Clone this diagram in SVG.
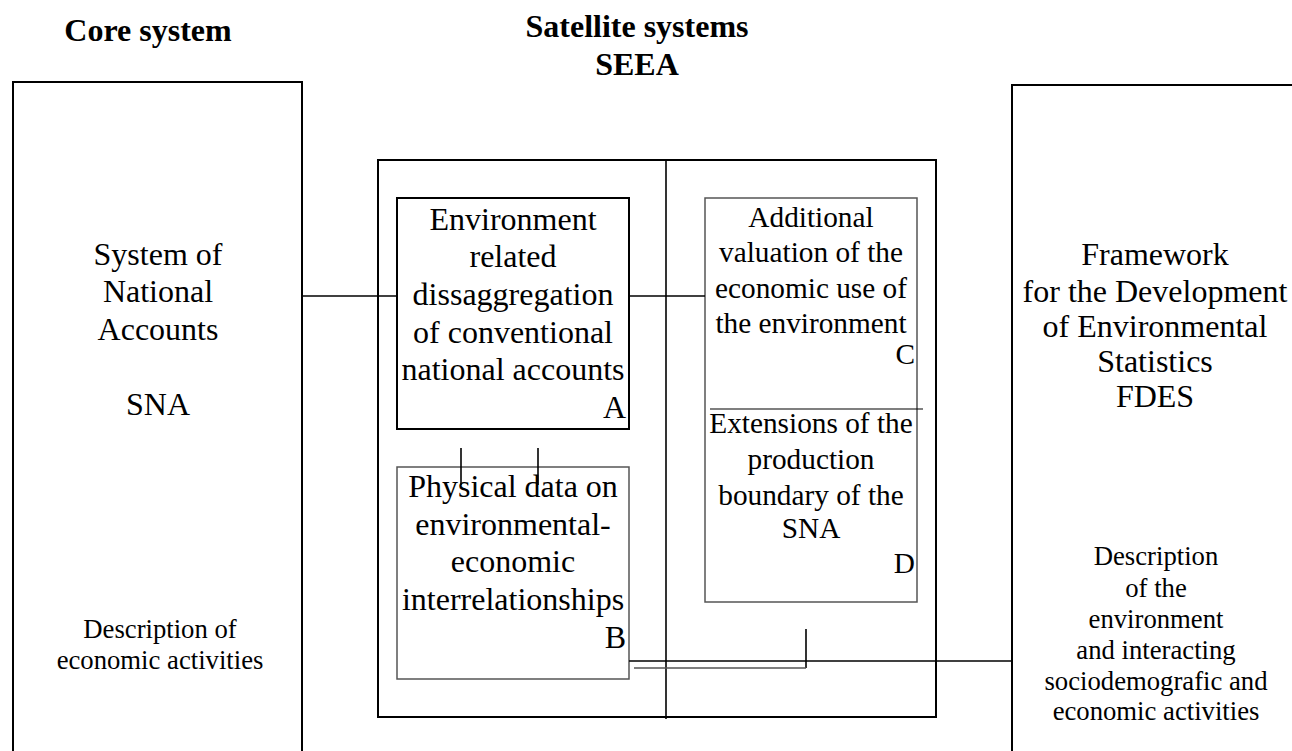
<svg xmlns="http://www.w3.org/2000/svg" width="1292" height="751" viewBox="0 0 1292 751">
  <style>
    .t { font-family: "Liberation Serif", "Times New Roman", serif; fill: #000; text-anchor: middle; }
    .title { font-size: 32px; font-weight: bold; }
    .body { font-size: 32px; }
    .mid { font-size: 29.3px; }
    .small { font-size: 26.7px; }
    .r { text-anchor: end; }
    .box { fill: none; stroke: #000; stroke-width: 2; }
    .thin { fill: none; stroke: #555; stroke-width: 1.5; }
    .ln { stroke: #000; stroke-width: 1.6; fill: none; }
    .ln-gray { stroke: #555; stroke-width: 1.4; fill: none; }
  </style>
  <rect width="1292" height="751" fill="#fff"/>

  <!-- Headings -->
  <g id="headings">
    <text class="t title" x="148" y="41">Core system</text>
    <text class="t title" x="637" y="37">Satellite systems</text>
    <text class="t title" x="637" y="75">SEEA</text>
  </g>

  <!-- Core system: SNA -->
  <g id="sna">
    <path class="box" d="M13,760 V82 H302 V760"/>
    <text class="t body" x="158" y="265">System of</text>
    <text class="t body" x="158" y="302">National</text>
    <text class="t body" x="158" y="340">Accounts</text>
    <text class="t body" x="158" y="415">SNA</text>
    <text class="t small" x="160" y="638">Description of</text>
    <text class="t small" x="160" y="669">economic activities</text>
  </g>

  <!-- Satellite system frame -->
  <g id="seea">
    <rect class="box" x="378" y="160" width="558" height="557"/>
    <line class="ln" x1="666" y1="160" x2="666" y2="719"/>
  </g>

  <!-- A -->
  <g id="node-a">
    <rect class="box" x="397" y="198" width="232" height="231"/>
    <text class="t body" x="513" y="230">Environment</text>
    <text class="t body" x="513" y="267">related</text>
    <text class="t body" x="513" y="305">dissaggregation</text>
    <text class="t body" x="513" y="343">of conventional</text>
    <text class="t body" x="513" y="380">national accounts</text>
    <text class="t body r" x="626" y="418">A</text>
  </g>

  <!-- B -->
  <g id="node-b">
    <rect class="thin" x="397" y="467" width="232" height="212"/>
    <text class="t body" x="513" y="497">Physical data on</text>
    <text class="t body" x="513" y="535">environmental-</text>
    <text class="t body" x="513" y="572">economic</text>
    <text class="t body" x="513" y="610">interrelationships</text>
    <text class="t body r" x="626" y="648">B</text>
  </g>

  <!-- C / D -->
  <g id="node-cd">
    <rect class="thin" x="705" y="198" width="212" height="404"/>
    <line stroke="#000" stroke-width="1.2" x1="710" y1="409" x2="923" y2="409"/>
    <text class="t mid" x="811" y="227">Additional</text>
    <text class="t mid" x="811" y="262">valuation of the</text>
    <text class="t mid" x="811" y="298">economic use of</text>
    <text class="t mid" x="811" y="333">the environment</text>
    <text class="t mid r" x="915" y="364">C</text>
    <text class="t mid" x="811" y="433">Extensions of the</text>
    <text class="t mid" x="811" y="469">production</text>
    <text class="t mid" x="811" y="505">boundary of the</text>
    <text class="t mid" x="811" y="538">SNA</text>
    <text class="t mid r" x="915" y="573">D</text>
  </g>

  <!-- FDES -->
  <g id="fdes">
    <path class="box" d="M1012,760 V85 H1300"/>
    <text class="t body" x="1155" y="265">Framework</text>
    <text class="t body" x="1155" y="302">for the Development</text>
    <text class="t body" x="1155" y="337">of Environmental</text>
    <text class="t body" x="1155" y="372">Statistics</text>
    <text class="t body" x="1155" y="407">FDES</text>
    <text class="t small" x="1156" y="565">Description</text>
    <text class="t small" x="1156" y="597">of the</text>
    <text class="t small" x="1156" y="628">environment</text>
    <text class="t small" x="1156" y="659">and interacting</text>
    <text class="t small" x="1156" y="690">sociodemografic and</text>
    <text class="t small" x="1156" y="720">economic activities</text>
  </g>

  <!-- Connectors -->
  <g id="connectors">
    <line class="ln" x1="302" y1="296" x2="397" y2="296"/>
    <line class="ln" x1="629" y1="296" x2="705" y2="296"/>
    <line class="ln" x1="461" y1="448" x2="461" y2="485"/>
    <line class="ln" x1="538" y1="448" x2="538" y2="485"/>
    <line class="ln" x1="629" y1="661" x2="1012" y2="661"/>
    <line class="ln" x1="806" y1="629" x2="806" y2="668"/>
    <line class="ln-gray" x1="634" y1="668" x2="806" y2="668"/>
  </g>
</svg>
